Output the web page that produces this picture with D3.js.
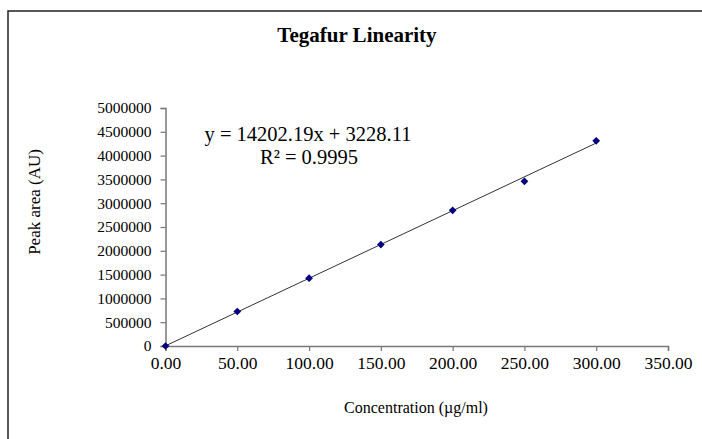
<!DOCTYPE html>
<html>
<head>
<meta charset="utf-8">
<script src="https://cdn.jsdelivr.net/npm/d3@7"></script>
<style>
  body { margin: 0; background: #fff; }
  text { font-family: "Liberation Serif", "Times New Roman", serif; fill: #000; }
</style>
</head>
<body>
<div id="chart"></div>
<script>
// data
var concentrations = [0, 50, 100, 150, 200, 250, 300];
var peakAreas = [0, 725000, 1425000, 2130000, 2850000, 3460000, 4310000];
var xTicks = [0, 50, 100, 150, 200, 250, 300, 350];
var yTicks = [0, 500000, 1000000, 1500000, 2000000, 2500000, 3000000, 3500000, 4000000, 4500000, 5000000];
var slope = 14202.19, intercept = 3228.11, rSquared = 0.9995;

var serif = "'Liberation Serif', 'Times New Roman', serif";
var W = 702, H = 439;
var margin = {top: 108, right: 34, bottom: 93, left: 165.5};
var width = W - margin.left - margin.right,
    height = H - margin.top - margin.bottom;

var svg = d3.select("#chart").append("svg")
  .attr("width", W).attr("height", H);

// chart frame (cropped at right and bottom)
svg.append("rect")
  .attr("x", 8).attr("y", 11)
  .attr("width", W + 10).attr("height", H + 10)
  .attr("fill", "none").attr("stroke", "#222").attr("stroke-width", 1.5);

//title
svg.append("text")
  .attr("x", 357).attr("y", 42)
  .attr("text-anchor", "middle")
  .style("font-size", "21px").style("font-weight", "bold")
  .text("Tegafur Linearity");

var g = svg.append("g")
  .attr("transform", "translate(" + margin.left + "," + margin.top + ")");

var x = d3.scaleLinear().domain([0, 350]).range([0, width]);
var y = d3.scaleLinear().domain([0, 5000000]).range([height, 0]);

//x axis
var xAxis = g.append("g")
  .attr("transform", "translate(0," + height + ")")
  .call(d3.axisBottom(x).tickValues(xTicks).tickSize(5).tickPadding(6)
    .tickFormat(function(d) { return d.toFixed(2); }));
xAxis.attr("font-family", serif).attr("font-size", 17.5);
xAxis.selectAll("text").style("font-family", serif).style("font-size", "17.5px");

//y axis
var yAxis = g.append("g")
  .call(d3.axisLeft(y).tickValues(yTicks).tickSize(5).tickPadding(9)
    .tickFormat(function(d) { return d; }));
yAxis.attr("font-family", serif).attr("font-size", 15.5);
yAxis.selectAll("text").style("font-family", serif).style("font-size", "15.5px");

g.selectAll(".domain").attr("stroke", "#777").attr("stroke-width", 1.5);
g.selectAll(".tick line").attr("stroke", "#777").attr("stroke-width", 1.2);

//trendline
var xmin = d3.min(concentrations), xmax = d3.max(concentrations);
g.append("line")
  .attr("x1", x(xmin)).attr("y1", y(slope * xmin + intercept))
  .attr("x2", x(xmax)).attr("y2", y(slope * xmax + intercept))
  .attr("stroke", "#333").attr("stroke-width", 1);

//points
g.selectAll(".pt")
  .data(d3.zip(concentrations, peakAreas))
  .enter().append("path")
  .attr("class", "pt")
  .attr("d", d3.symbol().type(d3.symbolDiamond2).size(38))
  .attr("transform", function(d) { return "translate(" + x(d[0]) + "," + y(d[1]) + ")"; })
  .attr("fill", "#000080");

//equation
svg.append("text")
  .attr("x", 308).attr("y", 141)
  .attr("text-anchor", "middle")
  .style("font-size", "20.5px")
  .text("y = " + slope.toFixed(2) + "x + " + intercept.toFixed(2));
svg.append("text")
  .attr("x", 309).attr("y", 164)
  .attr("text-anchor", "middle")
  .style("font-size", "20.5px")
  .text("R\u00B2 = " + rSquared);

//axis titles
svg.append("text")
  .attr("transform", "translate(40,202) rotate(-90)")
  .attr("text-anchor", "middle")
  .style("font-size", "17px")
  .text("Peak area (AU)");
svg.append("text")
  .attr("x", 416).attr("y", 413)
  .attr("text-anchor", "middle")
  .style("font-size", "16px")
  .text("Concentration (\u00B5g/ml)");
</script>
</body>
</html>
